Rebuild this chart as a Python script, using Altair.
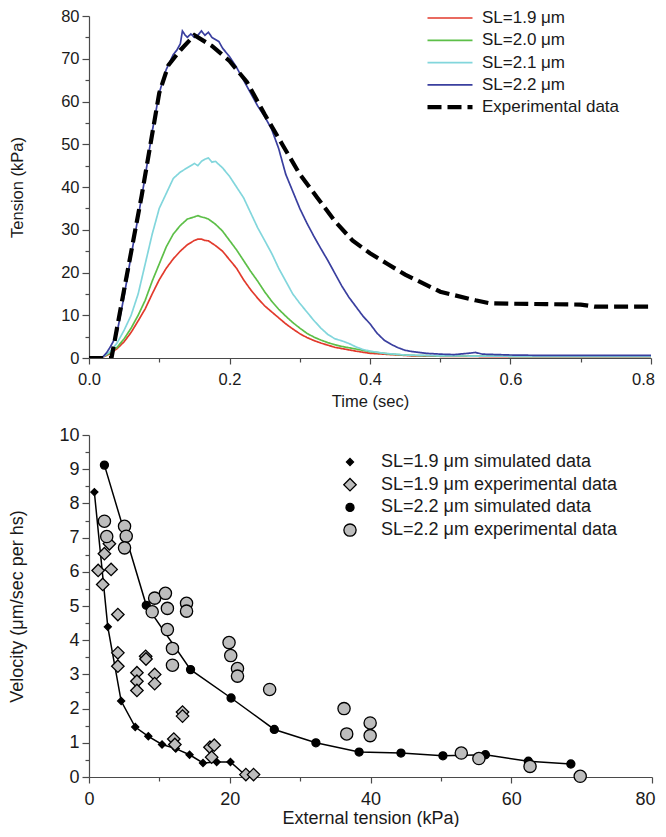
import altair as alt
import pandas as pd

FONT = "Liberation Sans"
AXIS_GREY = "#4a4a4a"
TEXT = "#1a1a1a"

# ---------------- top panel: tension transients ----------------
series_names = ["SL=1.9 μm", "SL=2.0 μm", "SL=2.1 μm", "SL=2.2 μm", "Experimental data"]
series_colors = ["#e23a2c", "#5dbf48", "#82d6dc", "#3a3f9f", "#000000"]
series_dash = [[1, 0], [1, 0], [1, 0], [1, 0], [14, 6]]
series_width = [1.7, 1.7, 1.7, 1.7, 4.2]

t_19 = [0, 0.015, 0.02, 0.03, 0.04, 0.05, 0.06, 0.07, 0.08, 0.09, 0.1, 0.11, 0.12, 0.13, 0.14, 0.15,
        0.155, 0.16, 0.165, 0.17, 0.18, 0.19, 0.2, 0.21, 0.22, 0.23, 0.24, 0.25, 0.26, 0.27, 0.28,
        0.29, 0.3, 0.31, 0.32, 0.33, 0.34, 0.35, 0.36, 0.38, 0.4, 0.43, 0.46, 0.5, 0.6, 0.8]
v_19 = [0, 0, 0.2, 1.0, 2.2, 3.8, 6.0, 8.7, 11.5, 15.0, 18.3, 21.0, 23.2, 25.0, 26.5, 27.5,
        27.8, 27.8, 27.5, 27.4, 26.3, 25.0, 23.0, 21.0, 18.3, 16.0, 14.0, 12.2, 10.8, 9.4, 8.0,
        6.8, 5.7, 4.8, 4.1, 3.5, 3.0, 2.5, 2.2, 1.6, 1.1, 0.8, 0.5, 0.4, 0.3, 0.3]

t_20 = [0, 0.015, 0.02, 0.03, 0.04, 0.05, 0.06, 0.07, 0.08, 0.09, 0.1, 0.11, 0.12, 0.13, 0.14, 0.15,
        0.155, 0.16, 0.165, 0.17, 0.18, 0.19, 0.2, 0.21, 0.22, 0.23, 0.24, 0.25, 0.26, 0.27, 0.28,
        0.29, 0.3, 0.31, 0.32, 0.33, 0.34, 0.35, 0.36, 0.37, 0.38, 0.4, 0.43, 0.46, 0.5, 0.6, 0.8]
v_20 = [0, 0, 0.3, 1.2, 2.5, 4.5, 7.0, 10.0, 13.5, 18.0, 22.0, 26.0, 29.0, 31.0, 32.5, 33.0,
        33.3, 33.0, 32.8, 32.5, 31.3, 29.7, 27.5, 25.3, 22.8, 20.3, 18.0, 15.5, 13.3, 11.4, 9.8,
        8.3, 7.0, 5.8, 4.9, 4.2, 3.6, 3.1, 2.7, 2.4, 2.1, 1.5, 0.9, 0.6, 0.5, 0.4, 0.4]

t_21 = [0, 0.015, 0.02, 0.03, 0.04, 0.05, 0.06, 0.07, 0.08, 0.09, 0.1, 0.11, 0.12, 0.13, 0.14, 0.15,
        0.155, 0.16, 0.165, 0.17, 0.175, 0.18, 0.19, 0.2, 0.21, 0.22, 0.23, 0.24, 0.25, 0.26, 0.27,
        0.28, 0.29, 0.3, 0.31, 0.32, 0.33, 0.34, 0.35, 0.36, 0.37, 0.38, 0.39, 0.4, 0.42, 0.45, 0.5,
        0.6, 0.7, 0.8]
v_21 = [0, 0, 0.3, 1.5, 3.5, 6.5, 10.0, 15.0, 22.0, 29.0, 35.0, 38.5, 42.0, 43.5, 44.5, 45.5,
        45.0, 46.0, 46.5, 46.8, 45.8, 46.0, 44.5, 42.5, 40.0, 37.5, 34.0, 30.5, 27.5, 24.5, 21.0,
        18.0, 15.0, 12.8, 10.8, 8.8, 7.0, 5.5, 4.5, 4.0, 3.4, 2.6, 2.0, 1.6, 1.1, 0.7, 0.5,
        0.4, 0.4, 0.4]

t_22 = [0, 0.01, 0.015, 0.02, 0.025, 0.03, 0.035, 0.04, 0.05, 0.06, 0.07, 0.08, 0.09, 0.1, 0.11,
        0.12, 0.125, 0.13, 0.133, 0.137, 0.14, 0.145, 0.15, 0.155, 0.16, 0.165, 0.17, 0.175, 0.18,
        0.185, 0.19, 0.2, 0.21, 0.22, 0.23, 0.24, 0.25, 0.26, 0.27, 0.28, 0.29, 0.3, 0.31, 0.32,
        0.33, 0.34, 0.35, 0.36, 0.37, 0.38, 0.39, 0.4, 0.41, 0.42, 0.43, 0.44, 0.45, 0.46, 0.48,
        0.5, 0.52, 0.54, 0.55, 0.56, 0.58, 0.6, 0.65, 0.7, 0.75, 0.8]
v_22 = [0, 0, 0.1, 0.3, 1.2, 2.5, 4.0, 6.0, 14.5, 24.0, 33.0, 42.5, 53.0, 62.0, 67.5,
        71.0, 72.0, 73.5, 76.5, 75.5, 75.0, 75.8, 75.0, 75.5, 76.5, 75.5, 76.2, 75.0, 74.5,
        74.0, 72.5, 70.5, 68.0, 65.0, 62.0, 59.0, 56.5, 53.5, 49.0, 43.0, 39.0, 35.0, 31.6, 28.5,
        25.6, 22.8, 19.8, 16.8, 14.2, 12.0, 9.8, 8.0, 5.8, 4.2, 3.2, 2.4, 1.8, 1.5, 1.1,
        0.9, 0.8, 1.1, 1.3, 0.9, 0.8, 0.7, 0.6, 0.6, 0.6, 0.6]

t_exp = [0, 0.032, 0.05, 0.075, 0.1, 0.113, 0.13, 0.15, 0.175, 0.2, 0.225, 0.25, 0.275, 0.3,
         0.325, 0.35, 0.375, 0.4, 0.425, 0.45, 0.5, 0.55, 0.57, 0.6, 0.65, 0.7, 0.72, 0.8]
v_exp = [0, 0, 16.0, 38.0, 62.0, 68.5, 72.0, 75.5, 73.0, 69.5, 64.5, 57.0, 50.0, 43.0,
         37.5, 32.0, 27.5, 24.5, 22.0, 19.5, 15.5, 13.5, 12.8, 12.7, 12.6, 12.5, 12.0, 12.0]

time_ticks = [0, 0.1, 0.2, 0.3, 0.4, 0.5, 0.6, 0.7, 0.8]
tension_ticks = [0, 5, 10, 15, 20, 25, 30, 35, 40, 45, 50, 55, 60, 65, 70, 75, 80]

rows = []
for k, (name, ts, vs) in enumerate(zip(series_names, [t_19, t_20, t_21, t_22, t_exp],
                                       [v_19, v_20, v_21, v_22, v_exp])):
    for t, v in zip(ts, vs):
        rows.append({"series": name, "time": t, "tension": v, "k": k})
top_df = pd.DataFrame(rows)

legend_top = alt.Legend(
    title=None, orient="none", legendX=336, legendY=-8,
    symbolType="stroke", symbolSize=2025, clipHeight=20, rowPadding=2.3,
    labelFont=FONT, labelFontSize=17, labelColor=TEXT, labelOffset=7, padding=0, labelLimit=400,
)

top = alt.Chart(top_df).mark_line(clip=True).encode(
    x=alt.X("time:Q", title="Time (sec)",
            scale=alt.Scale(domain=[0, 0.8], nice=False),
            axis=alt.Axis(values=time_ticks, format=".1f",
                          labelExpr="round(datum.value*10) % 2 === 0 ? datum.label : ''",
                          tickSize={"condition": {"test": "round(datum.value*10) % 2 === 0", "value": 6}, "value": 4},
                          labelOffset={"condition": {"test": "datum.value > 0.75", "value": -8}, "value": 0},
                          labelPadding=7, titlePadding=6)),
    y=alt.Y("tension:Q", title="Tension (kPa)",
            scale=alt.Scale(domain=[0, 80], nice=False),
            axis=alt.Axis(values=tension_ticks,
                          labelExpr="datum.value % 10 === 0 ? datum.label : ''",
                          tickSize={"condition": {"test": "datum.value % 10 === 0", "value": 7}, "value": 4},
                          labelPadding=3, titlePadding=35)),
    color=alt.Color("series:N", scale=alt.Scale(domain=series_names, range=series_colors), legend=legend_top),
    strokeDash=alt.StrokeDash("series:N", scale=alt.Scale(domain=series_names, range=series_dash), legend=legend_top),
    strokeWidth=alt.StrokeWidth("series:N", scale=alt.Scale(type="ordinal", domain=series_names, range=series_width),
                                legend=legend_top),
    order=alt.Order("k:Q"),
).properties(width=562, height=342)

# ---------------- bottom panel: force-velocity ----------------
fv_names = ["SL=1.9 μm simulated data", "SL=1.9 μm experimental data",
            "SL=2.2 μm simulated data", "SL=2.2 μm experimental data"]
fv_shapes = ["diamond", "diamond", "circle", "circle"]
fv_fills = ["#000000", "#bdbdbd", "#000000", "#bdbdbd"]
fv_strokes = ["#000000", "#000000", "#000000", "#000000"]
fv_sizes = [50, 155, 64, 150]

sim19_tension = [0.76, 2.67, 4.57, 6.57, 8.43, 10.38, 12.33, 14.29, 16.2, 18.14, 20.1, 22.2]
sim19_velocity = [8.33, 4.39, 2.22, 1.46, 1.19, 0.95, 0.83, 0.65, 0.41, 0.44, 0.44, 0.06]

exp19_tension = [1.3, 1.95, 2.19, 2.9, 3.14, 4.1, 4.1, 4.1, 6.81, 6.81, 6.81, 8.05, 8.1, 9.33, 9.33,
                 12.05, 12.2, 13.29, 13.29, 17.19, 17.8, 17.43, 22.29, 23.38]
exp19_velocity = [6.04, 5.63, 6.53, 6.82, 6.07, 4.75, 3.63, 3.24, 3.05, 2.8, 2.53, 3.53, 3.45, 3.0, 2.73,
                  1.11, 0.95, 1.9, 1.78, 0.87, 0.93, 0.58, 0.07, 0.07]

sim22_tension = [2.19, 8.14, 14.43, 20.19, 26.33, 32.24, 38.38, 44.33, 50.29, 56.33, 62.43, 68.47]
sim22_velocity = [9.12, 5.02, 3.14, 2.31, 1.39, 1.0, 0.73, 0.70, 0.62, 0.65, 0.46, 0.38]

exp22_tension = [2.19, 2.52, 5.05, 5.29, 5.05, 9.33, 10.86, 8.98, 11.14, 11.14, 13.86, 13.86, 11.86, 11.86,
                 19.9, 20.14, 21.1, 21.1, 25.67, 36.24, 36.62, 39.95, 39.95, 52.9, 55.4, 62.67, 69.8]
exp22_velocity = [7.48, 7.03, 7.33, 7.04, 6.7, 5.23, 5.37, 4.83, 4.93, 4.31, 5.08, 4.85, 3.76, 3.27,
                  3.93, 3.55, 3.17, 2.95, 2.56, 2.0, 1.26, 1.58, 1.21, 0.70, 0.54, 0.31, 0.02]

ext_ticks = [0, 10, 20, 30, 40, 50, 60, 70, 80]
vel_ticks = [v / 2 for v in range(0, 21)]

fv_rows = []
for k, (name, xs, ys) in enumerate(zip(fv_names,
                                       [sim19_tension, exp19_tension, sim22_tension, exp22_tension],
                                       [sim19_velocity, exp19_velocity, sim22_velocity, exp22_velocity])):
    for x, y in zip(xs, ys):
        fv_rows.append({"series": name, "tension": x, "velocity": y, "k": k})
fv_df = pd.DataFrame(fv_rows)
# draw order: simulated first, then experimental on top
fv_df["draw"] = fv_df["k"].map({0: 0, 2: 1, 1: 2, 3: 3})
fv_df = fv_df.sort_values(["draw"], kind="stable")

xb = alt.X("tension:Q", title="External tension (kPa)",
           scale=alt.Scale(domain=[0, 80], nice=False),
           axis=alt.Axis(values=ext_ticks,
                         labelExpr="datum.value % 20 === 0 ? datum.label : ''",
                         tickSize={"condition": {"test": "datum.value % 20 === 0", "value": 6}, "value": 4},
                         labelOffset={"condition": {"test": "datum.value > 75", "value": -7}, "value": 0},
                         labelPadding=7, titlePadding=1, labelFontSize=18, titleFontSize=18))
yb = alt.Y("velocity:Q", title="Velocity (μm/sec per hs)",
           scale=alt.Scale(domain=[0, 10], nice=False),
           axis=alt.Axis(values=vel_ticks, format=".0f",
                         labelExpr="datum.value % 1 === 0 ? datum.label : ''",
                         tickSize={"condition": {"test": "datum.value % 1 === 0", "value": 7}, "value": 4},
                         labelPadding=3, titlePadding=32, labelFontSize=18, titleFontSize=18))

lines = alt.Chart(fv_df).transform_filter(
    alt.FieldOneOfPredicate(field="series", oneOf=[fv_names[0], fv_names[2]])
).mark_line(color="black", strokeWidth=1.5).encode(
    x=xb, y=yb, detail="series:N", order=alt.Order("tension:Q"))

legend_bot = alt.Legend(
    title=None, orient="none", legendX=252, legendY=17, clipHeight=20, rowPadding=2.7,
    labelFont=FONT, labelFontSize=18, labelColor=TEXT, labelOffset=22, padding=0, labelLimit=400,
    symbolStrokeWidth=1.3,
)

points = alt.Chart(fv_df).mark_point(filled=True, strokeWidth=1.3, opacity=1).encode(
    x=xb, y=yb,
    shape=alt.Shape("series:N", scale=alt.Scale(domain=fv_names, range=fv_shapes), legend=legend_bot),
    fill=alt.Fill("series:N", scale=alt.Scale(domain=fv_names, range=fv_fills), legend=legend_bot),
    stroke=alt.Stroke("series:N", scale=alt.Scale(domain=fv_names, range=fv_strokes), legend=legend_bot),
    size=alt.Size("series:N", scale=alt.Scale(type="ordinal", domain=fv_names, range=fv_sizes), legend=legend_bot),
    order=alt.Order("draw:Q"),
)

bottom = alt.layer(lines, points).properties(width=563, height=342)

chart = alt.vconcat(top, bottom, spacing=16).resolve_legend(
    color="independent", strokeDash="independent", strokeWidth="independent",
    shape="independent", fill="independent", size="independent", stroke="independent",
).resolve_scale(
    color="independent", strokeDash="independent", strokeWidth="independent",
    shape="independent", fill="independent", size="independent", stroke="independent",
).properties(
    padding={"top": 0, "left": 0, "right": 0, "bottom": 0}
).configure_view(stroke=None).configure_axis(
    grid=False, domainColor=AXIS_GREY, tickColor=AXIS_GREY, domainWidth=1.2, tickWidth=1.2,
    labelFont=FONT, titleFont=FONT, labelFontSize=16.5, titleFontSize=16.5,
    labelColor=TEXT, titleColor=TEXT, titleFontWeight="normal", labelFlush=False,
)

chart.save("out.html", embed_options={"renderer": "svg", "actions": False})
